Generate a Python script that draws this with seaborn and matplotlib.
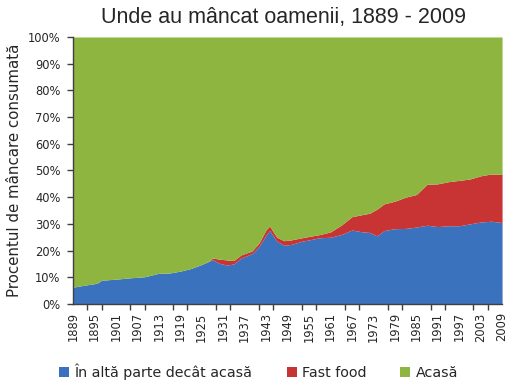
import numpy as np
import matplotlib
matplotlib.use("Agg")
import matplotlib.pyplot as plt
import seaborn as sns

# Data (percent of food consumed)
years = [1889, 1892, 1895, 1896, 1897, 1901, 1905, 1909, 1913, 1916, 1919, 1922, 1925,
         1927, 1928, 1930, 1932, 1934, 1936, 1939, 1941, 1943, 1944, 1945, 1946, 1948,
         1950, 1953, 1955, 1958, 1961, 1964, 1967, 1970, 1972, 1974, 1976, 1979, 1982,
         1985, 1988, 1991, 1994, 1997, 2000, 2003, 2006, 2009]
away_from_home = [6.3, 7.0, 7.6, 8.0, 8.9, 9.3, 9.8, 10.2, 11.5, 11.6, 12.3, 13.3, 14.8,
                  16.0, 16.6, 15.2, 14.6, 15.0, 17.2, 18.8, 21.5, 25.8, 27.5, 25.5, 23.5, 22.0,
                  22.3, 23.5, 24.0, 24.8, 25.0, 26.0, 27.7, 27.0, 26.8, 25.5, 27.5, 28.2, 28.3,
                  28.8, 29.5, 29.0, 29.3, 29.3, 30.0, 30.7, 31.0, 30.5]
fast_food = [0, 0, 0, 0, 0, 0, 0, 0, 0, 0, 0, 0, 0,
             0, 0.6, 1.6, 1.9, 1.3, 1.2, 1.0, 1.3, 2.0, 1.7, 1.5, 1.5, 1.7,
             1.7, 1.3, 1.3, 1.2, 2.0, 3.5, 5.0, 6.5, 7.2, 10.0, 10.0, 10.3, 11.7,
             12.2, 15.3, 16.0, 16.5, 17.0, 16.8, 17.3, 17.7, 18.0]
at_home = [100 - a - f for a, f in zip(away_from_home, fast_food)]

labels = ["În altă parte decât acasă", "Fast food", "Acasă"]
colors = ["#3a72bd", "#c83434", "#8db53f"]
label_years = list(range(1889, 2010, 6))
tick_mark_years = list(range(1889, 2010, 4))

sns.set_style("white")
plt.rcParams['font.family'] = ['DejaVu Sans']

fig = plt.figure(figsize=(5.12, 3.82), dpi=100)
ax = fig.add_axes([0.1426, 0.2042, 0.838, 0.699])

ax.stackplot(years, away_from_home, fast_food, at_home, colors=colors, labels=labels,
             linewidth=0)

ax.set_xlim(1889, 2009)
ax.set_ylim(0, 100)
ax.set_yticks(range(0, 101, 10))
ax.set_yticklabels([f"{v}%" for v in range(0, 101, 10)], fontsize=8.3)

# tick marks every 4 years, labels every 6 years (as in the original)
ax.set_xticks(tick_mark_years, minor=True)
ax.set_xticks(label_years)
ax.set_xticklabels([str(y) for y in label_years], rotation=90, fontsize=8.3)
ax.tick_params(axis="x", which="major", length=0, pad=6)
ax.tick_params(axis="x", which="minor", direction="out", length=4, width=1,
               color="#404040", bottom=True)
ax.tick_params(axis="y", direction="out", length=4, width=1, color="#404040", pad=5,
               left=True)

for side in ["top", "right"]:
    ax.spines[side].set_visible(False)
for side in ["left", "bottom"]:
    ax.spines[side].set_color("#404040")
    ax.spines[side].set_linewidth(1)

ax.set_ylabel("Procentul de mâncare consumată", fontsize=10.8, labelpad=4)
fig.text(0.553, 0.955, "Unde au mâncat oamenii, 1889 - 2009", ha="center", va="center",
         fontsize=15.5, family="Liberation Sans")

handles, labs = ax.get_legend_handles_labels()
fig.legend(handles, labs, loc="center", bbox_to_anchor=(0.505, 0.026), ncol=3, frameon=False,
           fontsize=10.3, handlelength=0.7, handleheight=0.7, handletextpad=0.35,
           columnspacing=2.4, borderaxespad=0)

fig.savefig("out.png", dpi=100)
